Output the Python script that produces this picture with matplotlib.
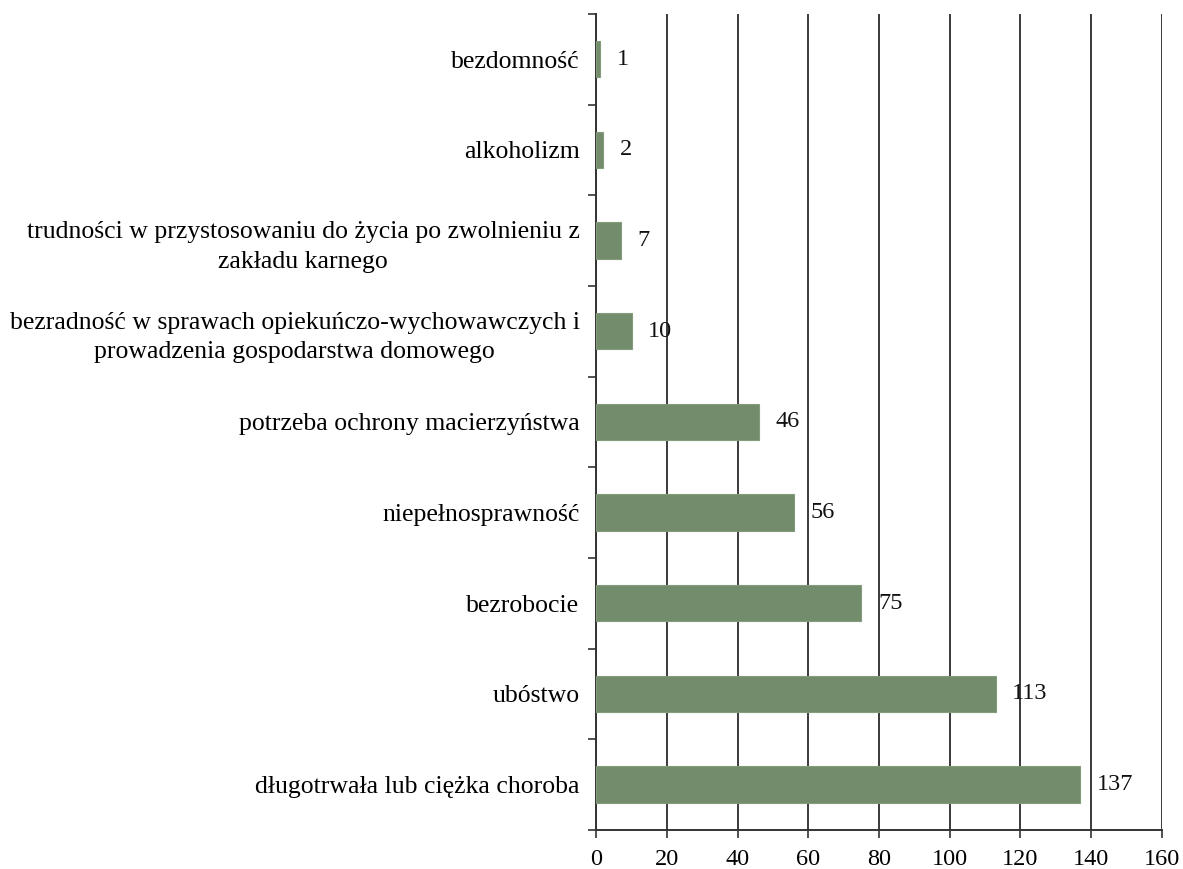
import numpy as np
import matplotlib.pyplot as plt
from matplotlib.ticker import MultipleLocator

plt.rcParams['font.family'] = ['Liberation Serif', 'DejaVu Serif']

categories = [
    'bezdomność',
    'alkoholizm',
    'trudności w przystosowaniu do życia po zwolnieniu z\nzakładu karnego',
    'bezradność w sprawach opiekuńczo-wychowawczych i\nprowadzenia gospodarstwa domowego',
    'potrzeba ochrony macierzyństwa',
    'niepełnosprawność',
    'bezrobocie',
    'ubóstwo',
    'długotrwała lub ciężka choroba',
]
values = [1, 2, 7, 10, 46, 56, 75, 113, 137]

fig = plt.figure(figsize=(11.83, 8.69), dpi=100)
ax = fig.add_axes([0.504, 0.045, 0.478, 0.939])

y = np.arange(len(categories))
ax.barh(y, values, height=0.4, color='#738c6c', edgecolor='#839c7c',
        linewidth=0.8, zorder=3)

# value labels right of each bar
for yi, v in zip(y, values):
    ax.annotate(str(v), (v, yi), xytext=(12, 0), textcoords='offset points',
                va='center', ha='left', fontsize=17.5, color='#111111', zorder=4)

ax.set_ylim(len(categories) - 0.5, -0.5)
ax.set_xlim(0, 160)
ax.xaxis.set_major_locator(MultipleLocator(20))
ax.set_yticks(y)
ax.set_yticklabels(categories)
ax.set_yticks(np.arange(-0.5, len(categories), 1), minor=True)
for lab in ax.get_yticklabels():
    lab.set_multialignment('center')
    lab.set_linespacing(1.45)

ax.tick_params(axis='y', which='major', length=0, labelsize=18.5, pad=12)
ax.tick_params(axis='y', which='minor', length=6, width=1.2, color='#333333')
ax.tick_params(axis='x', length=6, width=1.2, color='#333333', labelsize=17.5, pad=8)

ax.grid(axis='x', color='#3a3a3a', linewidth=1.4, zorder=1)
for s in ['top', 'right']:
    ax.spines[s].set_visible(False)
for s in ['left', 'bottom']:
    ax.spines[s].set_color('#333333')
    ax.spines[s].set_linewidth(1.4)

fig.savefig('out.png', dpi=100, facecolor='white')
